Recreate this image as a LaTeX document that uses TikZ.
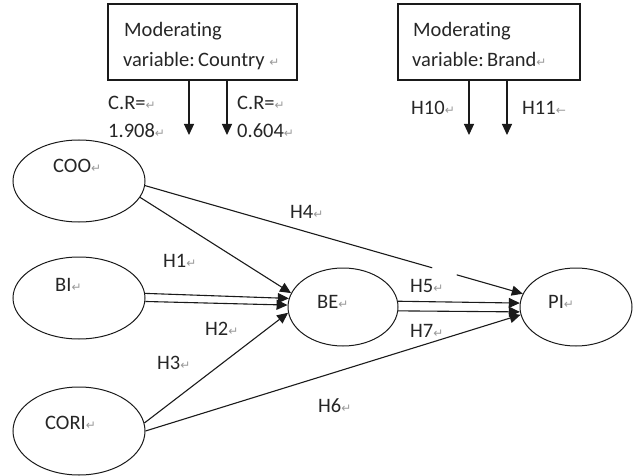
\documentclass[tikz,border=0pt]{standalone}
\usepackage{fontspec}
\setmainfont{Carlito}[Ligatures={NoCommon}]
\newfontfamily\dv{DejaVu Sans}
\usetikzlibrary{arrows.meta,shapes.geometric}
\definecolor{tcol}{HTML}{262626}
\definecolor{lcol}{HTML}{1A1A1A}
\newcommand\rmk{{\dv\fontsize{12}{13}\selectfont\color{black!40}↵}}
\newcommand\rml{{\dv\fontsize{12}{13}\selectfont\color{black!40}←}}
\begin{document}
\begin{tikzpicture}[x=1pt,y=-1pt,
  txt/.style={anchor=base west, inner sep=0pt, text=tcol, font=\fontsize{20.5}{24}\selectfont},
  ell/.style={draw=lcol, ellipse, line width=1pt, inner sep=0pt},
  box/.style={draw=lcol, rectangle, line width=1.2pt, inner sep=0pt},
  arr/.style={draw=lcol, line width=1.1pt, -{Triangle[length=11pt,width=10pt]}},
  ln/.style={draw=lcol, line width=1.1pt}]
\useasboundingbox (0,0) rectangle (637,476);
% moderator boxes
\node[box, minimum width=189pt, minimum height=76pt] (mc) at (202.5,42) {};
\node[box, minimum width=182pt, minimum height=76pt] (mb) at (489,42) {};
\node[txt] (mca) at (124,37) {Moderating};
\node[txt] (mcb) at (123,67) {variable:\,Country \rmk};
\node[txt] (mba) at (413,37) {Moderating};
\node[txt] (mbb) at (412,67) {variable:\,Brand\rmk};
% moderator arrows
\coordinate (t1) at (189,135);
\coordinate (t2) at (227,135);
\coordinate (t3) at (469,135);
\coordinate (t4) at (507,135);
\draw[arr] (mc.south -| t1) -- (t1);
\draw[arr] (mc.south -| t2) -- (t2);
\draw[arr] (mb.south -| t3) -- (t3);
\draw[arr] (mb.south -| t4) -- (t4);
\node[txt] (cr1) at (108,110) {C.R=\rmk};
\node[txt] (cv1) at (108,138) {1.908\rmk};
\node[txt] (cr2) at (237,110) {C.R=\rmk};
\node[txt] (cv2) at (237,138) {0.604\rmk};
\node[txt] (h10) at (411,115) {H10\rmk};
\node[txt] (h11) at (522,115) {H11\rml};
% ellipses
\node[ell, minimum width=132pt, minimum height=82pt] (coo) at (79,181) {};
\node[ell, minimum width=132pt, minimum height=82pt] (bi) at (79,298) {};
\node[ell, minimum width=132pt, minimum height=88pt] (cori) at (79,431) {};
\node[ell, minimum width=110pt, minimum height=78pt] (be) at (343,307) {};
\node[ell, minimum width=112pt, minimum height=78pt] (pi) at (576,307) {};
\node[txt] (coot) at (53,172) {COO\rmk};
\node[txt] (bit) at (55,291) {BI\rmk};
\node[txt] (corit) at (45,429) {CORI\rmk};
\node[txt] (bet) at (317,308) {BE\rmk};
\node[txt] (pit) at (548,308) {PI\rmk};
% paths
\draw[arr] (coo.-15) -- (be.165);
\draw[arr] (bi.4) -- (be.171);
\draw[arr] (bi.-3.5) -- (be.178);
\draw[arr] (cori.7) -- (be.186);
\path (coo.-4) -- (pi.166) coordinate[pos=0.76] (g1) coordinate[pos=0.825] (g2);
\draw[ln] (coo.-4) -- (g1);
\draw[arr] (g2) -- (pi.166);
\draw[arr] (be.6) -- (pi.176);
\draw[arr] (be.-4) -- (pi.185);
\draw[arr] (cori.0) -- (pi.188);
% labels
\node[txt] (h4) at (290,218) {H4\rmk};
\node[txt] (h1) at (163,267) {H1\rmk};
\node[txt] (h2) at (205,335) {H2\rmk};
\node[txt] (h3) at (157,369) {H3\rmk};
\node[txt] (h5) at (410,292) {H5\rmk};
\node[txt] (h7) at (410,337) {H7\rmk};
\node[txt] (h6) at (318,412) {H6\rmk};
\end{tikzpicture}
\end{document}
